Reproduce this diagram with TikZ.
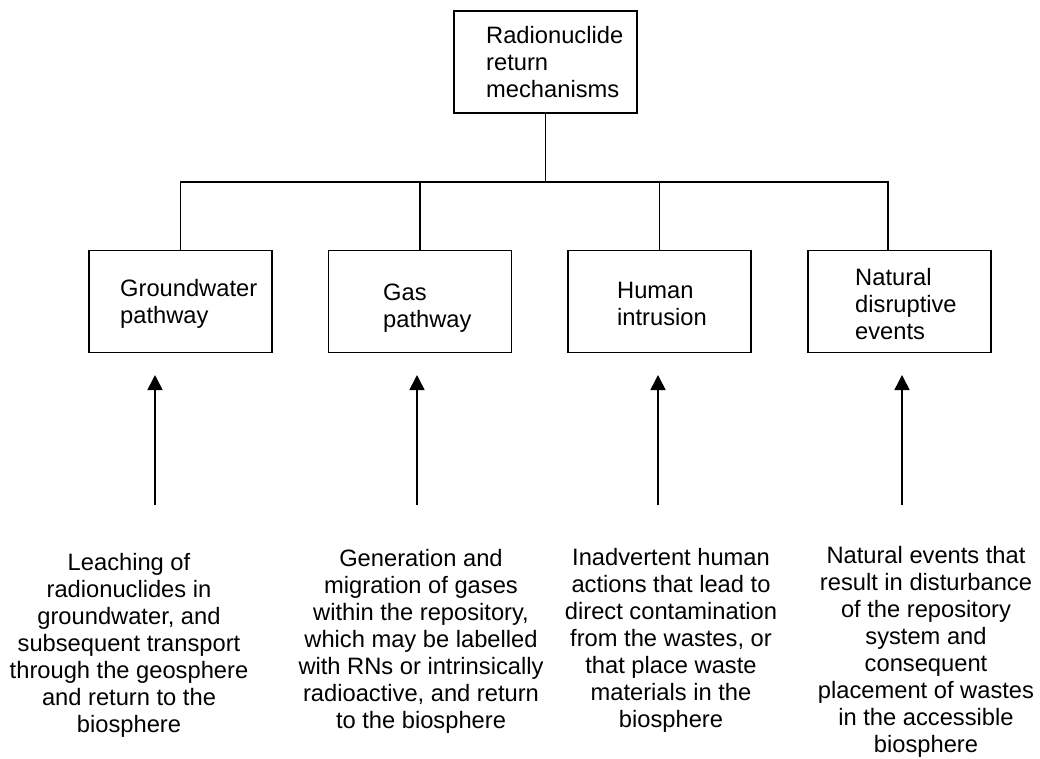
\documentclass[tikz,border=0pt]{standalone}
\usepackage{fontspec}
\setmainfont{Liberation Sans}
\usetikzlibrary{arrows.meta}
\begin{document}
\begin{tikzpicture}[x=1pt,y=-1pt,
  every node/.style={font=\fontsize{23.7}{27}\selectfont},
  box/.style={draw, line width=1.6pt, minimum width=183pt, minimum height=102pt, inner sep=0pt},
  boxtext/.style={anchor=north west, inner sep=0pt, align=left},
  desc/.style={anchor=north, inner sep=0pt, align=center},
  link/.style={line width=1.6pt},
  uparrow/.style={line width=1.6pt, -{Triangle[length=15pt,width=15pt]}}]
\useasboundingbox (0,0) rectangle (1040,758);

% top-level box
\node[box] (top) at (545.5,62) {};
\node[boxtext] (toptxt) at (486,26.5) {Radionuclide\\return\\mechanisms};

% pathway boxes
\node[box] (gw)  at (180.5,301.5) {};
\node[box] (gas) at (420,301.5) {};
\node[box] (hum) at (659.5,301.5) {};
\node[box] (nat) at (899.5,301.5) {};
\node[boxtext] (gwtxt)  at (120,279.5) {Groundwater\\pathway};
\node[boxtext] (gastxt) at (383,283.5) {Gas\\pathway};
\node[boxtext] (humtxt) at (617,281.5) {Human\\intrusion};
\node[boxtext] (nattxt) at (855,268.5) {Natural\\disruptive\\events};

% tree connectors
\coordinate (bus) at (0,182);
\coordinate (natdrop) at (888,250.5);
\draw[link] (top.south) -- (top.south |- bus);
\draw[link] (gw.north) -- (gw.north |- bus) -- (natdrop |- bus) -- (natdrop);
\draw[link] (gas.north) -- (gas.north |- bus);
\draw[link] (hum.north) -- (hum.north |- bus);

% descriptions
\node[desc] (gwd) at (129,553) {Leaching of\\radionuclides in\\groundwater, and\\subsequent transport\\through the geosphere\\and return to the\\biosphere};
\node[desc] (gasd) at (421,549.5) {Generation and\\migration of gases\\within the repository,\\which may be labelled\\with RNs or intrinsically\\radioactive, and return\\to the biosphere};
\node[desc] (humd) at (671,548.5) {Inadvertent human\\actions that lead to\\direct contamination\\from the wastes, or\\that place waste\\materials in the\\biosphere};
\node[desc] (natd) at (926,546.5) {Natural events that\\result in disturbance\\of the repository\\system and\\consequent\\placement of wastes\\in the accessible\\biosphere};

% arrows from descriptions up to boxes
\coordinate (a1s) at (155,505);  \coordinate (a1e) at (155,375);
\coordinate (a2s) at (417,505);  \coordinate (a2e) at (417,375);
\coordinate (a3s) at (658,505);  \coordinate (a3e) at (658,375);
\coordinate (a4s) at (902,505);  \coordinate (a4e) at (902,375);
\draw[uparrow] (a1s) -- (a1e);
\draw[uparrow] (a2s) -- (a2e);
\draw[uparrow] (a3s) -- (a3e);
\draw[uparrow] (a4s) -- (a4e);
\end{tikzpicture}
\end{document}
